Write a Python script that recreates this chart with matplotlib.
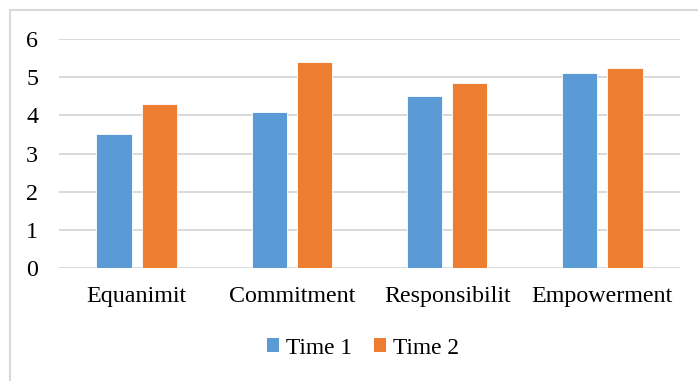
import numpy as np
import matplotlib.pyplot as plt
from matplotlib.patches import Rectangle, Patch

categories = ["Equanimit", "Commitment", "Responsibilit", "Empowerment"]
time1 = [3.5, 4.1, 4.5, 5.1]
time2 = [4.3, 5.4, 4.85, 5.25]
series_names = ["Time 1", "Time 2"]
yticks = [0, 1, 2, 3, 4, 5, 6]

blue = "#5B9BD5"
orange = "#ED7D31"
grid_gray = "#D9D9D9"

plt.rcParams["font.family"] = ["Liberation Serif", "DejaVu Serif"]

W, H = 698, 381
fig = plt.figure(figsize=(W / 100, H / 100), dpi=100)

# plot area in pixel terms
left, right, bottom, top = 59, 680, 268, 39
ax = fig.add_axes([left / W, (H - bottom) / H, (right - left) / W, (bottom - top) / H])

x = np.arange(len(categories))
bw = 0.226
gap = 0.065
ax.bar(x - (bw + gap) / 2, time1, bw, color=blue, edgecolor="white", linewidth=0.6, zorder=3)
ax.bar(x + (bw + gap) / 2, time2, bw, color=orange, edgecolor="white", linewidth=0.6, zorder=3)

ax.set_xlim(-0.5, len(categories) - 0.5)
ax.set_ylim(0, 6)
ax.set_yticks(yticks)
ax.set_xticks(x)
ax.set_xticklabels(categories)
ax.tick_params(axis="both", length=0, labelsize=17.3, colors="black")
ax.tick_params(axis="y", pad=15)
ax.tick_params(axis="x", pad=13)

ax.yaxis.grid(True, color=grid_gray, linewidth=1.4, zorder=0)
ax.set_axisbelow(True)
for s in ax.spines.values():
    s.set_visible(False)

# chart area frame
fig.patches.append(Rectangle((9.5 / W, -0.1), 1.2, (H - 9.5) / H + 0.1,
                             transform=fig.transFigure, fill=False,
                             edgecolor=grid_gray, linewidth=1.5))

handles = [Patch(facecolor=blue), Patch(facecolor=orange)]
fig.legend(handles, series_names, loc="center", bbox_to_anchor=(363 / W, (H - 348) / H),
           ncol=2, frameon=False, fontsize=16.8, handlelength=0.55, handleheight=0.55,
           handletextpad=0.3, columnspacing=0.9)

fig.savefig("out.png", dpi=100)
